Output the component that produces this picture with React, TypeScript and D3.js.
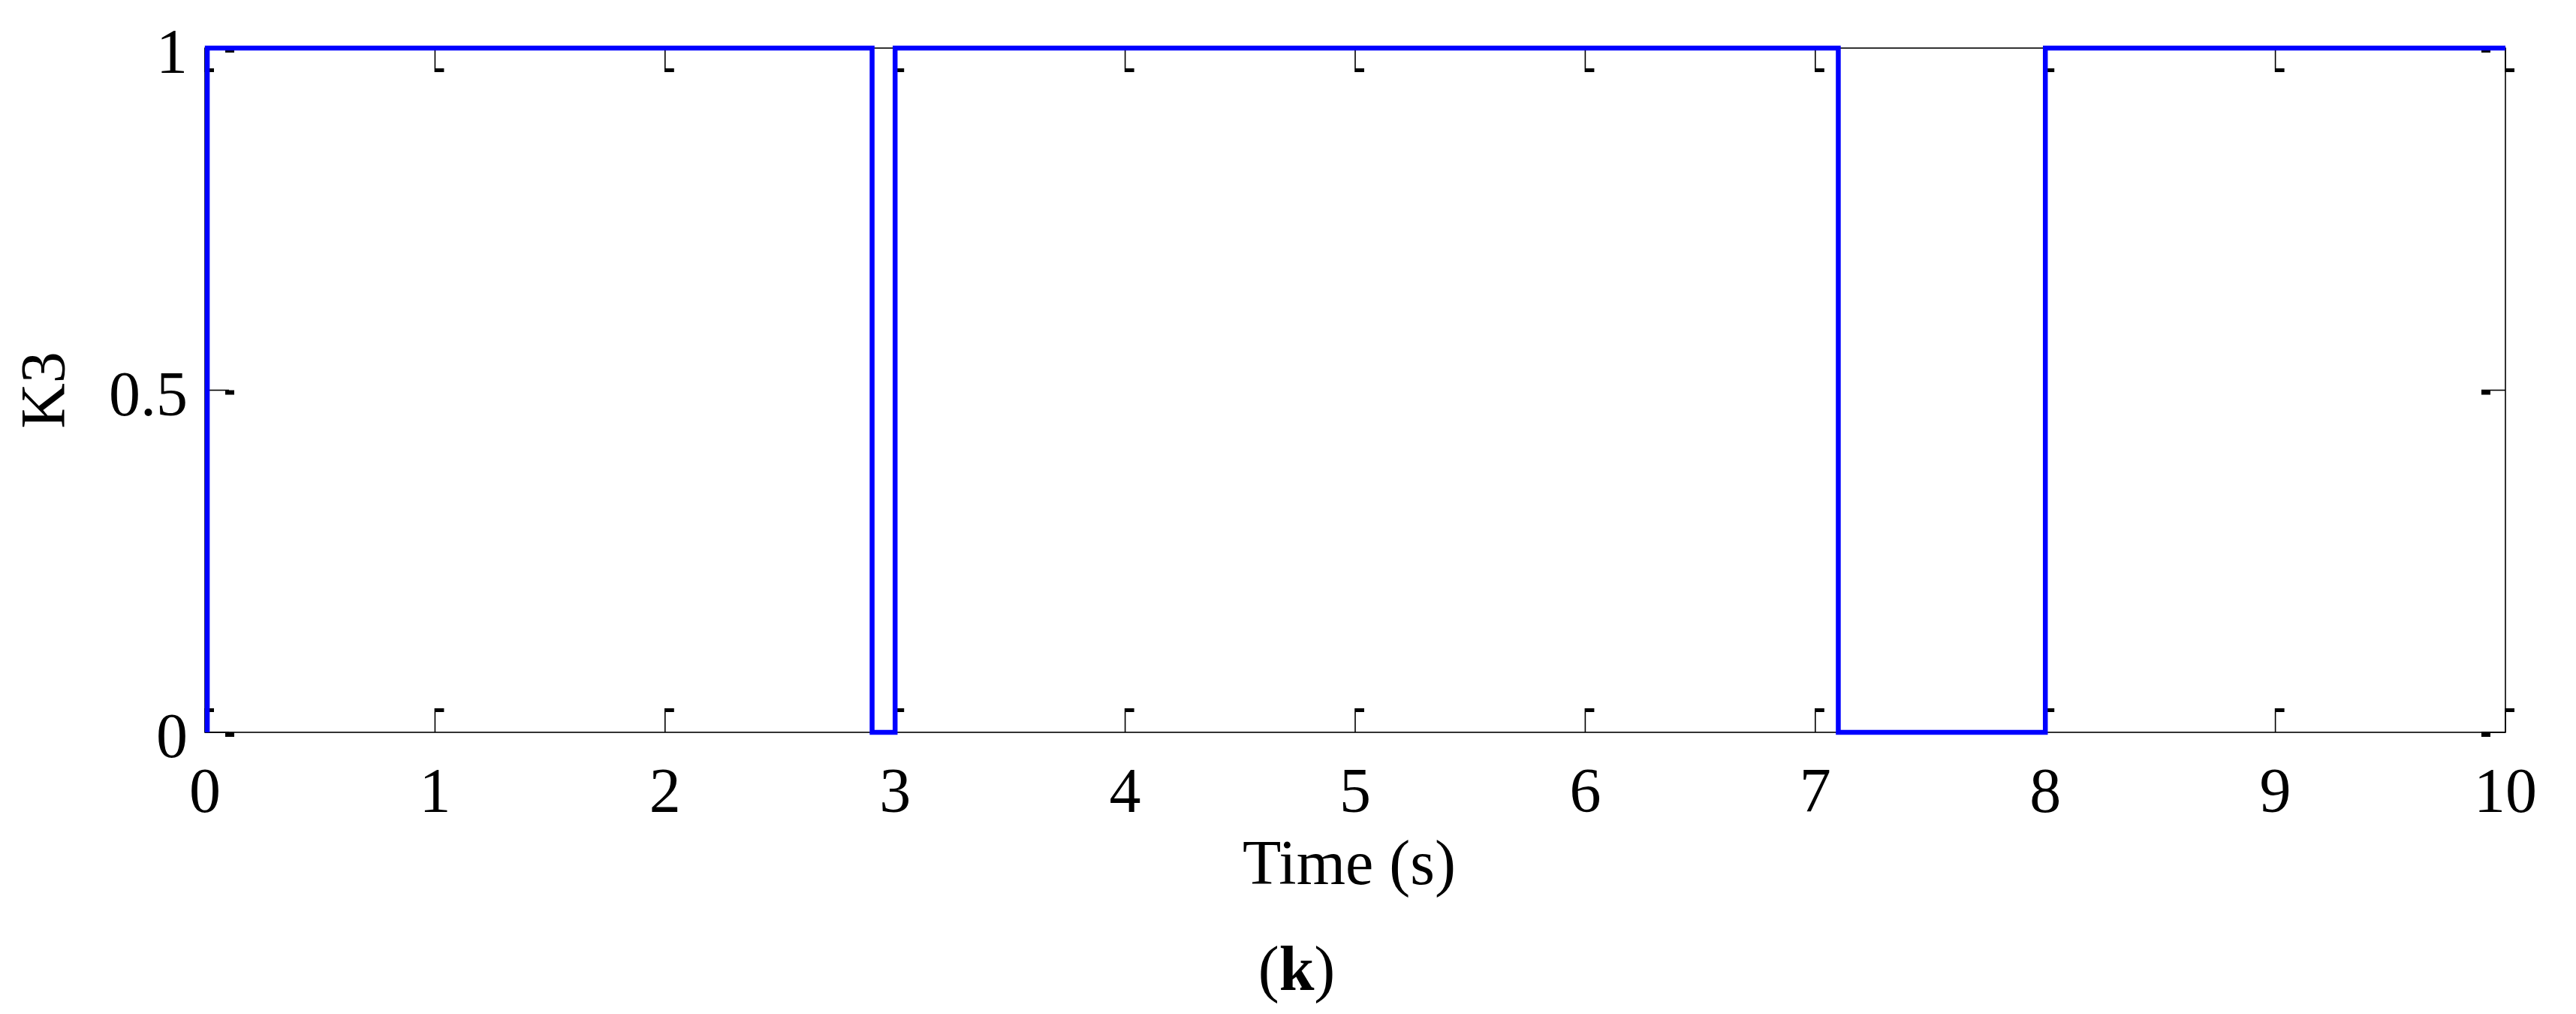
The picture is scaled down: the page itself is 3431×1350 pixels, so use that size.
import React from "react";
import * as d3 from "d3";

const times = [0.01, 0.01, 2.9, 3.0, 7.1, 8.0, 10];
const values = [0, 1, 0, 1, 0, 1, 1];
const xTicks = [0, 1, 2, 3, 4, 5, 6, 7, 8, 9, 10];
const yTicks = [0, 0.5, 1];
const yTickLabels = ["0", "0.5", "1"];
const xLabel = "Time (s)";
const yLabel = "K3";
const panelLabel = "k";

const W = 3431;
const H = 1350;
const L = 273, R = 3337, T = 64, B = 975;
const FONT = "'Liberation Serif', 'Times New Roman', serif";

export default function App() {
  const x = d3.scaleLinear().domain([0, 10]).range([L, R]);
  const y = d3.scaleLinear().domain([0, 1]).range([B, T]);
  const pts = times.map((t, i) => [t, values[i]] as [number, number]);
  const line = d3
    .line<[number, number]>()
    .x((d) => x(d[0]))
    .y((d) => y(d[1]))
    .curve(d3.curveStepAfter);
  const tl = 32;
  const bw = 12, bh = 5;
  return (
    <svg
      width={W}
      height={H}
      style={{ position: "absolute", left: 0, top: 0, display: "block", background: "#fff" }}
    >
      <rect x={0} y={0} width={W} height={H} fill="#fff" />
      {/* axes box */}
      <rect x={L} y={T} width={R - L} height={B - T} fill="none" stroke="#000" strokeWidth={1.6} />
      {/* x ticks bottom and top */}
      {xTicks.map((t) => (
        <g key={"xt" + t}>
          <line x1={x(t)} x2={x(t)} y1={B} y2={B - tl} stroke="#000" strokeWidth={1.6} />
          <rect x={x(t)} y={B - tl} width={bw} height={bh} fill="#000" />
          <line x1={x(t)} x2={x(t)} y1={T} y2={T + tl} stroke="#000" strokeWidth={1.6} />
          <rect x={x(t)} y={T + tl - bh} width={bw} height={bh} fill="#000" />
        </g>
      ))}
      {/* y ticks left and right */}
      {yTicks.map((t) => (
        <g key={"yt" + t}>
          <line x1={L} x2={L + tl} y1={y(t)} y2={y(t)} stroke="#000" strokeWidth={1.6} />
          <rect x={L + tl - 5} y={y(t)} width={bw} height={bh + 1} fill="#000" />
          <line x1={R} x2={R - tl} y1={y(t)} y2={y(t)} stroke="#000" strokeWidth={1.6} />
          <rect x={R - tl} y={y(t)} width={bw} height={bh + 1} fill="#000" />
        </g>
      ))}
      {/* data line */}
      <path d={line(pts) || ""} fill="none" stroke="#0000ff" strokeWidth={6.5} strokeLinejoin="miter" strokeLinecap="butt" />
      {/* x tick labels */}
      {xTicks.map((t) => (
        <text key={"xl" + t} x={x(t)} y={1081} textAnchor="middle" fontFamily={FONT} fontSize={84} fill="#000">
          {String(t)}
        </text>
      ))}
      {/* y tick labels */}
      {yTicks.map((t, i) => (
        <text key={"yl" + t} x={250} y={y(t) + 33} textAnchor="end" fontFamily={FONT} fontSize={84} fill="#000">
          {yTickLabels[i]}
        </text>
      ))}
      <text x={(L + R) / 2 - 8} y={1177} textAnchor="middle" fontFamily={FONT} fontSize={84} fill="#000">
        {xLabel}
      </text>
      <text
        transform={`translate(86, ${(T + B) / 2}) rotate(-90)`}
        textAnchor="middle"
        fontFamily={FONT}
        fontSize={84}
        fill="#000"
      >
        {yLabel}
      </text>
      <text x={1727} y={1318} textAnchor="middle" fontFamily={FONT} fontSize={84} fill="#000">
        (<tspan fontWeight="bold">{panelLabel}</tspan>)
      </text>
    </svg>
  );
}
